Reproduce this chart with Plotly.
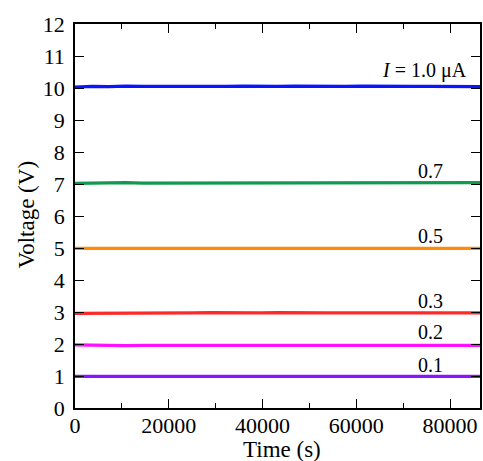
import plotly.graph_objects as go

# Time samples (s)
time_s = [0, 3600, 7200, 10800, 14400, 18000, 21600, 25200, 28800, 32400, 36000, 39600,
          43200, 46800, 50400, 54000, 57600, 61200, 64800, 68400, 72000, 75600, 79200, 82800, 86400]

# Voltage readings (V) for each current
v_1_0 = [10.03, 10.05, 10.04, 10.06, 10.05, 10.04, 10.05, 10.05, 10.04, 10.05, 10.06, 10.05,
         10.05, 10.06, 10.05, 10.04, 10.05, 10.06, 10.05, 10.04, 10.05, 10.05, 10.04, 10.05, 10.04]
v_0_7 = [7.02, 7.03, 7.02, 7.04, 7.03, 7.03, 7.04, 7.03, 7.04, 7.03, 7.03, 7.04,
         7.03, 7.04, 7.03, 7.03, 7.02, 7.03, 7.03, 7.02, 7.03, 7.03, 7.04, 7.04, 7.04]
v_0_5 = [4.99, 4.98, 4.99, 4.99, 5.00, 4.99, 4.99, 5.00, 4.99, 4.99, 4.99, 4.99,
         4.99, 4.99, 5.00, 4.99, 4.99, 4.98, 4.99, 4.99, 4.99, 4.99, 4.98, 4.99, 4.99]
v_0_3 = [2.96, 2.96, 2.95, 2.96, 2.96, 2.97, 2.97, 2.97, 2.98, 2.97, 2.97, 2.97,
         2.98, 2.97, 2.97, 2.97, 2.97, 2.97, 2.97, 2.96, 2.97, 2.96, 2.96, 2.97, 2.97]
v_0_2 = [1.97, 1.96, 1.96, 1.95, 1.96, 1.96, 1.97, 1.97, 1.96, 1.97, 1.97, 1.97,
         1.97, 1.97, 1.97, 1.96, 1.97, 1.97, 1.96, 1.97, 1.96, 1.96, 1.96, 1.96, 1.96]
v_0_1 = [0.99, 0.99, 0.99, 0.98, 0.99, 0.99, 0.99, 0.99, 0.98, 0.99, 0.99, 0.99,
         0.99, 1.00, 0.99, 0.99, 0.99, 0.99, 0.98, 0.99, 0.99, 0.98, 0.99, 0.98, 0.99]

series = [v_1_0, v_0_7, v_0_5, v_0_3, v_0_2, v_0_1]
colors = ["#0a14ff", "#0f9a50", "#ff8a0a", "#ff2828", "#ff10ff", "#8a14ff"]

# Labels
label_text = ["<i>I</i> = 1.0 μA", "0.7", "0.5", "0.3", "0.2", "0.1"]
label_x = [84000, 75800, 75800, 75800, 75800, 75800]
label_y = [10.56, 7.40, 5.36, 3.33, 2.37, 1.33]
label_anchor = ["right", "center", "center", "center", "center", "center"]

FONT = "Times New Roman, Liberation Serif, serif"

fig = go.Figure()
for vals, c in zip(series, colors):
    fig.add_trace(go.Scatter(x=time_s, y=vals, mode="lines",
                             line=dict(color=c, width=3.3), showlegend=False))

for t, x, y, a in zip(label_text, label_x, label_y, label_anchor):
    fig.add_annotation(x=x, y=y, text=t, showarrow=False, xanchor=a, yanchor="middle",
                       font=dict(family=FONT, size=20, color="black"))

# Axis titles
fig.add_annotation(xref="paper", yref="paper", x=0.51, y=-0.109, text="Time (s)",
                   showarrow=False, xanchor="center", yanchor="middle",
                   font=dict(family=FONT, size=23, color="black"))
fig.add_annotation(xref="paper", yref="paper", x=-0.12, y=0.505, text="Voltage (V)",
                   showarrow=False, xanchor="center", yanchor="middle", textangle=-90,
                   font=dict(family=FONT, size=23, color="black"))

axis_common = dict(showline=True, linecolor="black", linewidth=1.5, mirror="allticks",
                   ticks="inside", tickcolor="black", tickwidth=1.3, showgrid=False,
                   zeroline=False, tickfont=dict(family=FONT, size=22, color="black"))

fig.update_xaxes(range=[0, 86400], dtick=20000, tick0=0, ticklen=9, tickformat="d",
                 ticklabelstandoff=-3,
                 minor=dict(dtick=10000, ticks="inside", ticklen=5, tickcolor="black", tickwidth=1.3),
                 **axis_common)
fig.update_yaxes(range=[0, 12], dtick=1, tick0=0, ticklen=9, ticklabelstandoff=4,
                 **axis_common)

fig.update_layout(width=483, height=461, margin=dict(l=75, r=1, t=24, b=53),
                  plot_bgcolor="white", paper_bgcolor="white",
                  font=dict(family=FONT))

fig.write_html("out.html", config={"displayModeBar": False},
               post_script="document.body.style.margin='0px';document.body.style.overflow='hidden';")
